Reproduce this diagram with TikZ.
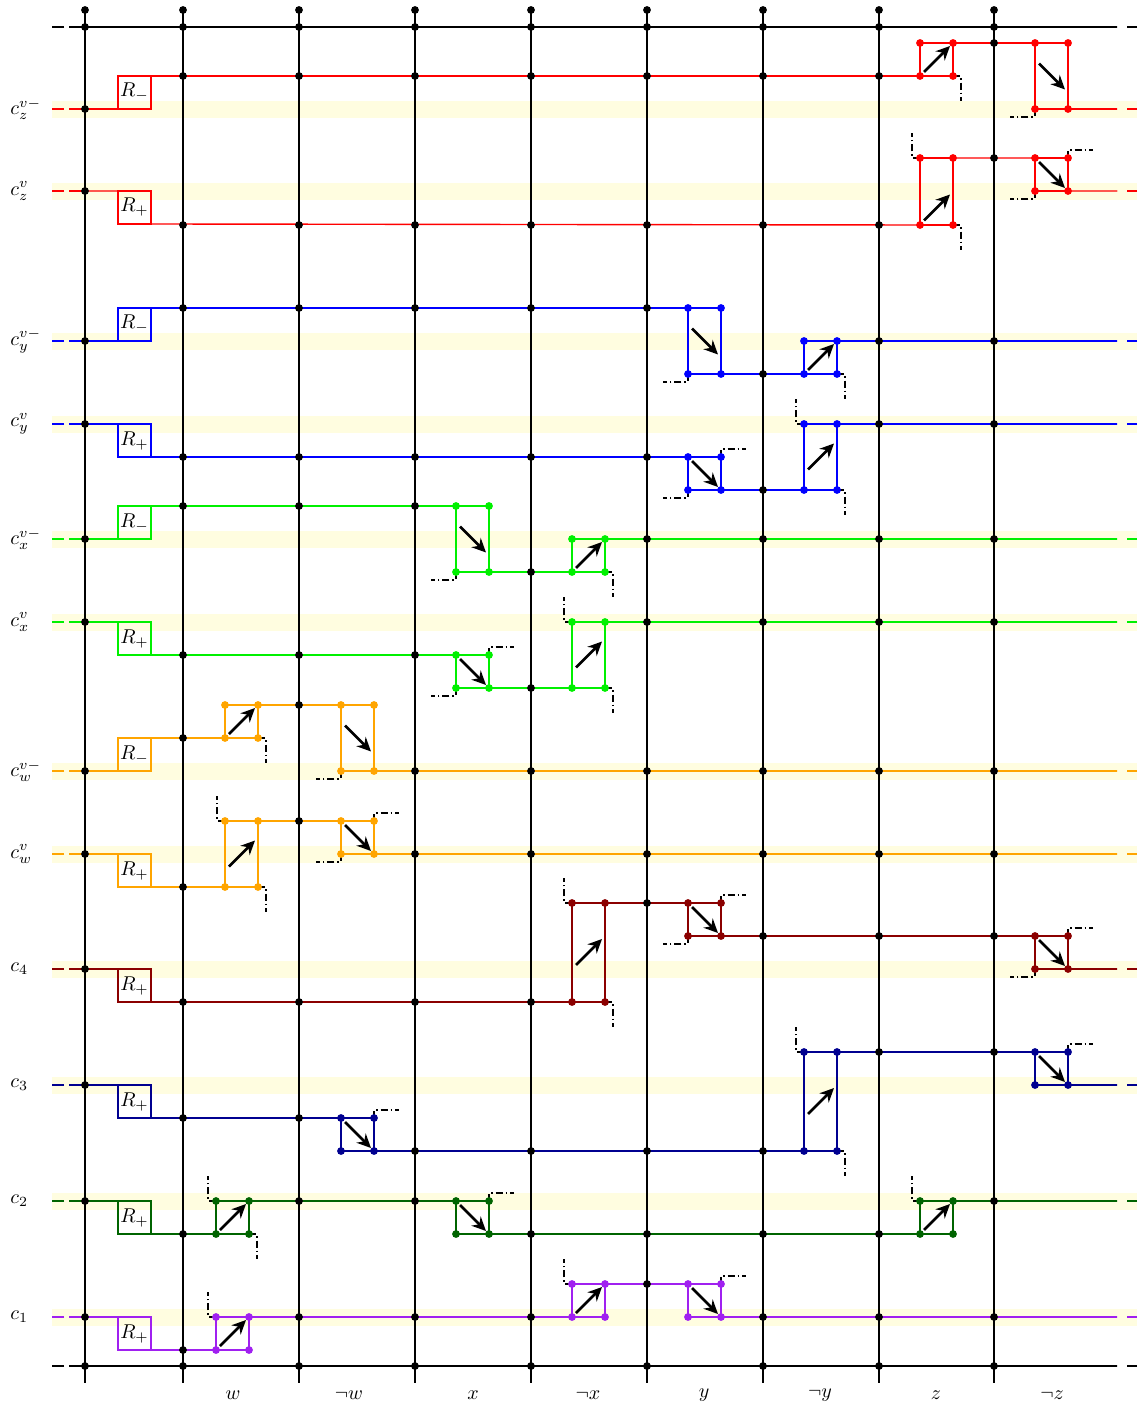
\documentclass[tikz,border=0pt]{standalone}
\usepackage{amsmath,amssymb}
\usepackage{tikz}
\usetikzlibrary{arrows.meta}
\definecolor{RowBand}{HTML}{FFFDE0}
\definecolor{ZRed}{HTML}{FF0000}
\definecolor{YBlue}{HTML}{0000FF}
\definecolor{XGreen}{HTML}{00F000}
\definecolor{WOrange}{HTML}{FFA500}
\definecolor{CFourRed}{HTML}{8B0000}
\definecolor{CThreeNavy}{HTML}{000090}
\definecolor{CTwoGreen}{HTML}{006400}
\definecolor{COnePurple}{HTML}{A020F0}

\begin{document}
\begin{tikzpicture}[
    x=0.5pt,y=-0.5pt,
    wire/.style={line width=0.8pt},
    cwire/.style={line width=0.7pt},
    jdot/.style={circle,fill=black,inner sep=0pt,minimum size=3.9pt},
    gdot/.style={circle,fill=#1,inner sep=0pt,minimum size=3.9pt},
    rbox/.style={draw=#1,line width=0.7pt,minimum size=16.5pt,inner sep=0pt,outer sep=0pt,anchor=north west},
    flip/.style={-{Stealth[length=7pt,width=6.5pt]},line width=1.3pt},
    stub/.style={line width=0.8pt,dash pattern=on 3.5pt off 1.5pt on 0.8pt off 1.5pt},
    lext/.style={line width=0.8pt,dash pattern=on 8pt off 2.5pt},
    rext/.style={line width=0.8pt,dash pattern=on 5pt off 5pt},
    >=Stealth
  ]
  \useasboundingbox (0,0) rectangle (1137,1406);

  % clause rows: bands, start points, R boxes, labels
  \foreach \r/\y/\col/\lab/\ry/\rl in {
      zm/109/ZRed/{c_z^{v-}}/76/-, z/191/ZRed/{c_z^{v}}/191/+,
      ym/341/YBlue/{c_y^{v-}}/308/-, y/424/YBlue/{c_y^{v}}/424/+,
      xm/539/XGreen/{c_x^{v-}}/506/-, x/622/XGreen/{c_x^{v}}/622/+,
      wm/771/WOrange/{c_w^{v-}}/738/-, w/854/WOrange/{c_w^{v}}/854/+,
      cf/969/CFourRed/{c_4}/969/+, ct/1085/CThreeNavy/{c_3}/1085/+,
      cs/1201/CTwoGreen/{c_2}/1201/+, co/1317/COnePurple/{c_1}/1317/+} {
    \fill[RowBand] (52,\y-8) rectangle (1137,\y+9);
    \coordinate (s-\r) at (85,\y);
    \coordinate (e-\r) at (1117,\y);
    \draw[lext,\col] (s-\r) -- (52,\y);
    \draw[rext,\col] (1137,\y) -- (e-\r);
    \node[rbox=\col] (R-\r) at (118,\ry) {$R_{\rl}$};
    \node[anchor=west,inner sep=1pt] (lab-\r) at (8,\y) {$\lab$};
  }

  % variable columns
  \foreach \c/\xx in {0/85,1/183,2/299,3/415,4/531,5/647,6/763,7/879,8/994} {
    \coordinate (top\c) at (\xx,10);
    \coordinate (bot\c) at (\xx,1383);
    \coordinate (t\c) at (\xx,27);
    \coordinate (b\c) at (\xx,1366);
    \draw[wire] (top\c) -- (bot\c);
  }
  \draw[wire] (t0) -- (1117,27);
  \draw[wire] (b0) -- (1117,1366);
  \draw[lext] (t0) -- (52,27);
  \draw[lext] (b0) -- (52,1366);
  \draw[rext] (1137,27) -- (1117,27);
  \draw[rext] (1137,1366) -- (1117,1366);

  % crossing gadgets
  \foreach \g/\gx/\gt/\gb/\col/\sy/\dy in {
      zm1/920/43/76/ZRed/1/0, zm2/1035/43/109/ZRed/-1/0,
      z1/920/158/225/ZRed/1/16.5, z2/1035/158/191/ZRed/-1/0,
      ym1/688/308/374/YBlue/-1/0, ym2/804/341/374/YBlue/1/0,
      y1/688/457/490/YBlue/-1/0, y2/804/424/490/YBlue/1/0,
      xm1/456/506/572/XGreen/-1/0, xm2/572/539/572/XGreen/1/0,
      x1/456/655/688/XGreen/-1/0, x2/572/622/688/XGreen/1/0,
      wm1/225/705/738/WOrange/1/0, wm2/341/705/771/WOrange/-1/0,
      w1/225/821/887/WOrange/1/0, w2/341/821/854/WOrange/-1/0,
      f1/572/903/1002/CFourRed/1/0, f2/688/903/936/CFourRed/-1/0,
      f3/1035/936/969/CFourRed/-1/0,
      t1/341/1118/1151/CThreeNavy/-1/0, t2/804/1052/1151/CThreeNavy/1/0,
      t3/1035/1052/1085/CThreeNavy/-1/0,
      s1/216/1201/1234/CTwoGreen/1/0, s2/456/1201/1234/CTwoGreen/-1/0,
      s3/920/1201/1234/CTwoGreen/1/0,
      o1/216/1317/1350/COnePurple/1/0, o2/572/1284/1317/COnePurple/1/0,
      o3/688/1284/1317/COnePurple/-1/0} {
    \coordinate (\g-tl) at (\gx,\gt);
    \coordinate (\g-tr) at (\gx+33,\gt);
    \coordinate (\g-bl) at (\gx,\gb);
    \coordinate (\g-br) at (\gx+33,\gb);
    \draw[cwire,\col] (\g-tl) rectangle (\g-br);
    \draw[flip] (\gx+4,{(\gt+\gb)/2+\dy+12.5*(\sy)}) -- (\gx+30,{(\gt+\gb)/2+\dy-13.5*(\sy)});
  }

  % row wires
  \draw[cwire,ZRed] (s-zm) -- (R-zm.south west) (R-zm.north east) -- (zm1-bl)
    (zm1-tr) -- (zm2-tl) (zm2-br) -- (e-zm);
  \draw[cwire,ZRed] (s-z) -- (R-z.north west) (R-z.south east) -- (z1-bl)
    (z1-tr) -- (z2-tl) (z2-br) -- (e-z);
  \draw[cwire,YBlue] (s-ym) -- (R-ym.south west) (R-ym.north east) -- (ym1-tl)
    (ym1-br) -- (ym2-bl) (ym2-tr) -- (e-ym);
  \draw[cwire,YBlue] (s-y) -- (R-y.north west) (R-y.south east) -- (y1-tl)
    (y1-br) -- (y2-bl) (y2-tr) -- (e-y);
  \draw[cwire,XGreen] (s-xm) -- (R-xm.south west) (R-xm.north east) -- (xm1-tl)
    (xm1-br) -- (xm2-bl) (xm2-tr) -- (e-xm);
  \draw[cwire,XGreen] (s-x) -- (R-x.north west) (R-x.south east) -- (x1-tl)
    (x1-br) -- (x2-bl) (x2-tr) -- (e-x);
  \draw[cwire,WOrange] (s-wm) -- (R-wm.south west) (R-wm.north east) -- (wm1-bl)
    (wm1-tr) -- (wm2-tl) (wm2-br) -- (e-wm);
  \draw[cwire,WOrange] (s-w) -- (R-w.north west) (R-w.south east) -- (w1-bl)
    (w1-tr) -- (w2-tl) (w2-br) -- (e-w);
  \draw[cwire,CFourRed] (s-cf) -- (R-cf.north west) (R-cf.south east) -- (f1-bl)
    (f1-tr) -- (f2-tl) (f2-br) -- (f3-tl) (f3-br) -- (e-cf);
  \draw[cwire,CThreeNavy] (s-ct) -- (R-ct.north west) (R-ct.south east) -- (t1-tl)
    (t1-br) -- (t2-bl) (t2-tr) -- (t3-tl) (t3-br) -- (e-ct);
  \draw[cwire,CTwoGreen] (s-cs) -- (R-cs.north west) (R-cs.south east) -- (s1-bl)
    (s1-tr) -- (s2-tl) (s2-br) -- (s3-bl) (s3-tr) -- (e-cs);
  \draw[cwire,COnePurple] (s-co) -- (R-co.north west) (R-co.south east) -- (o1-bl)
    (o1-tr) -- (o2-bl) (o2-tr) -- (o3-tl) (o3-br) -- (e-co);

  % open ends at the gadget corners
  \foreach \p in {z1-tl,y2-tl,x2-tl,w1-tl,f1-tl,t2-tl,s1-tl,s3-tl,o1-tl,o2-tl}
    \draw[stub] (\p) -- ++(-8,0) -- ++(0,-25);
  \foreach \p in {zm1-br,z1-br,ym2-br,y2-br,xm2-br,x2-br,wm1-br,w1-br,f1-br,t2-br,s1-br}
    \draw[stub] (\p) -- ++(8,0) -- ++(0,25);
  \foreach \p in {z2-tr,y1-tr,x1-tr,w2-tr,f2-tr,f3-tr,t1-tr,t3-tr,s2-tr,o3-tr}
    \draw[stub] (\p) -- ++(0,-8) -- ++(25,0);
  \foreach \p in {zm2-bl,z2-bl,ym1-bl,y1-bl,xm1-bl,x1-bl,wm2-bl,w2-bl,f2-bl,f3-bl}
    \draw[stub] (\p) -- ++(0,8) -- ++(-25,0);

  % gadget corner dots on top of the wires
  \foreach \g/\col in {zm1/ZRed,zm2/ZRed,z1/ZRed,z2/ZRed,ym1/YBlue,ym2/YBlue,
      y1/YBlue,y2/YBlue,xm1/XGreen,xm2/XGreen,x1/XGreen,x2/XGreen,
      wm1/WOrange,wm2/WOrange,w1/WOrange,w2/WOrange,f1/CFourRed,f2/CFourRed,
      f3/CFourRed,t1/CThreeNavy,t2/CThreeNavy,t3/CThreeNavy,s1/CTwoGreen,
      s2/CTwoGreen,s3/CTwoGreen,o1/COnePurple,o2/COnePurple,o3/COnePurple}
    \foreach \k in {tl,tr,bl,br}
      \node[gdot=\col] (\g-\k-dot) at (\g-\k) {};

  % junction dots
  \foreach \c in {0,...,8} {
    \node[jdot] (dtop\c) at (top\c) {};
    \node[jdot] (dt\c) at (t\c) {};
    \node[jdot] (db\c) at (b\c) {};
  }
  \foreach \r in {zm,z,ym,y,xm,x,wm,w,cf,ct,cs,co}
    \node[jdot] (ds-\r) at (s-\r) {};
  \foreach \y/\cols in {
      76/{183,299,415,531,647,763,879}, 43/{994},
      225/{183,299,415,531,647,763,879}, 158/{994},
      308/{183,299,415,531,647}, 374/{763}, 341/{879,994},
      457/{183,299,415,531,647}, 490/{763}, 424/{879,994},
      506/{183,299,415}, 572/{531}, 539/{647,763,879,994},
      655/{183,299,415}, 688/{531}, 622/{647,763,879,994},
      738/{183}, 705/{299}, 771/{415,531,647,763,879,994},
      887/{183}, 821/{299}, 854/{415,531,647,763,879,994},
      1002/{183,299,415,531}, 903/{647}, 936/{763,879,994},
      1118/{183,299}, 1151/{415,531,647,763}, 1052/{879,994},
      1234/{183,531,647,763,879}, 1201/{299,415,994},
      1350/{183}, 1284/{647}, 1317/{299,415,531,763,879,994}}
    \foreach \xx in \cols
      \node[jdot] (d-\xx-\y) at (\xx,\y) {};

  % variable labels
  \foreach \n/\xx/\t in {w/233/w, nw/349/\neg w, x/473/x, nx/588/\neg x,
      y/704/y, ny/820/\neg y, z/936/z, nz/1052/\neg z}
    \node (var-\n) at (\xx,1395) {$\t$};
\end{tikzpicture}
\end{document}
